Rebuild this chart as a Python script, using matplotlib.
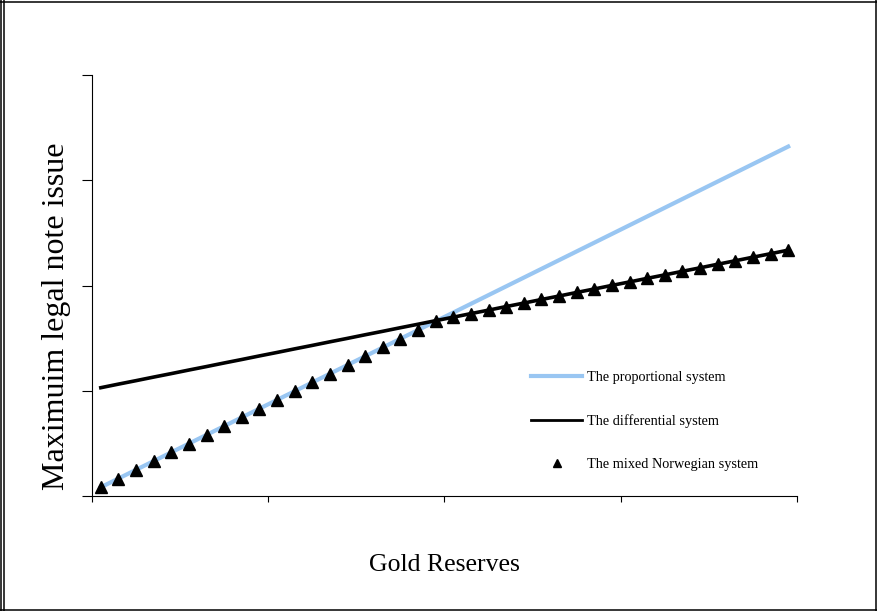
import numpy as np
import matplotlib
matplotlib.use("Agg")
import matplotlib.pyplot as plt
from matplotlib.lines import Line2D

# gold reserves (category index) and the three note-issue rules
gold = list(range(1, 41))
proportional = [8.3, 16.6, 24.9, 33.2, 41.5, 49.8, 58.1, 66.4, 74.7, 83.0,
                91.3, 99.6, 107.9, 116.2, 124.5, 132.8, 141.1, 149.4, 157.7, 166.0,
                174.3, 182.6, 190.9, 199.2, 207.5, 215.8, 224.1, 232.4, 240.7, 249.0,
                257.3, 265.6, 273.9, 282.2, 290.5, 298.8, 307.1, 315.4, 323.7, 332.0]
differential = [102.9, 106.3, 109.6, 113.0, 116.3, 119.7, 123.0, 126.4, 129.7, 133.1,
                136.4, 139.8, 143.1, 146.5, 149.8, 153.2, 156.5, 159.9, 163.2, 166.6,
                169.9, 173.3, 176.6, 180.0, 183.3, 186.7, 190.0, 193.4, 196.7, 200.1,
                203.4, 206.8, 210.1, 213.5, 216.8, 220.2, 223.5, 226.9, 230.2, 233.6]
mixed = [8.3, 16.6, 24.9, 33.2, 41.5, 49.8, 58.1, 66.4, 74.7, 83.0,
         91.3, 99.6, 107.9, 116.2, 124.5, 132.8, 141.1, 149.4, 157.7, 166.0,
         169.9, 173.3, 176.6, 180.0, 183.3, 186.7, 190.0, 193.4, 196.7, 200.1,
         203.4, 206.8, 210.1, 213.5, 216.8, 220.2, 223.5, 226.9, 230.2, 233.6]

labels = ["The proportional system", "The differential system", "The mixed Norwegian system"]

serif = ["Liberation Serif", "DejaVu Serif"]

W, H = 878, 611
fig = plt.figure(figsize=(W / 100, H / 100), dpi=100)
ax = fig.add_axes([92 / W, 1 - 496 / H, (797 - 92) / W, (496 - 75) / H])

ax.plot(gold, proportional, color="#99c6f2", lw=3.0, label=labels[0], zorder=2)
ax.plot(gold, differential, color="black", lw=2.6, label=labels[1], zorder=3)
ax.plot(gold, mixed, ls="none", marker="^", ms=8.5, color="black", label=labels[2], zorder=4)

ax.set_xlim(0.5, 40.5)
ax.set_ylim(0, 400)
ax.set_xticks([0.5, 10.5, 20.5, 30.5, 40.5])
ax.set_yticks([0, 100, 200, 300, 400])
ax.tick_params(axis="y", direction="out", length=7, width=0.8, labelleft=False)
ax.tick_params(axis="x", direction="out", length=4.5, width=0.8, labelbottom=False)
for s in ["top", "right"]:
    ax.spines[s].set_visible(False)
for s in ["left", "bottom"]:
    ax.spines[s].set_linewidth(0.8)
    ax.spines[s].set_color("black")

leg = ax.legend(loc="upper left", bbox_to_anchor=(531 / W, 1 - 371 / H),
                bbox_transform=fig.transFigure, frameon=False, borderpad=0,
                borderaxespad=0, handlelength=3.6, handletextpad=0.3,
                labelspacing=2.1, numpoints=1,
                prop={"family": serif, "size": 10.3})
leg.get_lines()[1].set_linewidth(2.0)
leg.get_lines()[2].set_markersize(6)

fig.text(57 / W, 1 - 316 / H, "Maximuim legal note issue", rotation=90,
         ha="center", va="center", family=serif, fontsize=23)
fig.text(444 / W, 1 - 565 / H, "Gold Reserves", ha="center", va="center",
         family=serif, fontsize=18.5)

# page frame (double rule on the left)
for x in [1.5 / W, 4.5 / W, 876.5 / W]:
    fig.add_artist(Line2D([x, x], [0, 1], transform=fig.transFigure, color="black", lw=1.1))
for y in [1 - 1.5 / H, 1.0 / H]:
    fig.add_artist(Line2D([0, 1], [y, y], transform=fig.transFigure, color="black", lw=1.1))

fig.savefig("out.png", dpi=100)
